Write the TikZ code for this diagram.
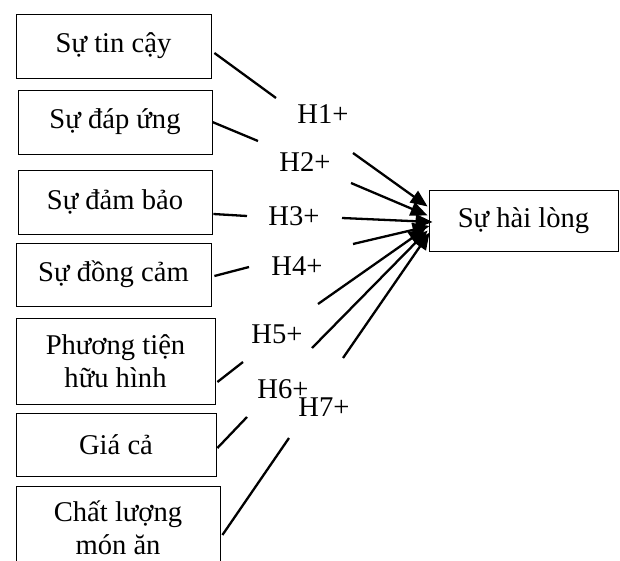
\documentclass[tikz,border=0pt]{standalone}
\usepackage{fontspec}
\setmainfont{Liberation Serif}
\usetikzlibrary{calc,arrows.meta}
\tikzset{
  box/.style={draw, line width=0.8pt, inner sep=0pt, align=center,
    font=\fontsize{28.6}{33}\selectfont},
  hyp/.style={inner sep=0pt, font=\fontsize{28.6}{33}\selectfont},
  link/.style={line width=2.3pt},
  arr/.style={line width=2.3pt, -{Triangle[length=17pt,width=14pt]}},
}
\begin{document}
\begin{tikzpicture}[x=1pt,y=-1pt]
\clip (0,0) rectangle (620,561);
\fill[white] (0,0) rectangle (620,561);

% factor boxes
\node[box, minimum width=195, minimum height=64] (s1) at (113.5,46) {Sự tin cậy};
\node[box, minimum width=194, minimum height=64] (s2) at (115,122) {Sự đáp ứng};
\node[box, minimum width=194, minimum height=64] (s3) at (115,202) {Sự đảm bảo};
\node[box, minimum width=195, minimum height=63] (s4) at (113.5,274.5) {Sự đồng cảm};
\node[box, minimum width=199, minimum height=86] (s5) at (115.5,361) {Phương tiện\\hữu hình};
\node[box, minimum width=200, minimum height=63] (s6) at (116,444.5) {Giá cả};
\node[box, minimum width=204, minimum height=84] (s7) at (118,528) {Chất lượng\\món ăn};

% outcome box
\node[box, minimum width=189, minimum height=61] (t) at (523.5,220.5) {Sự hài lòng};

% hypothesis labels
\node[hyp] (h1) at (323,114) {H1+};
\node[hyp] (h2) at (305,162) {H2+};
\node[hyp] (h3) at (294,216) {H3+};
\node[hyp] (h4) at (297,266) {H4+};
\node[hyp] (h5) at (277,334) {H5+};
\node[hyp] (h6) at (283,389) {H6+};
\node[hyp] (h7) at (324,407) {H7+};

% ends of the segments next to the labels
\coordinate (a1) at (276,98);   \coordinate (b1) at (353,153);
\coordinate (a2) at (258,141);  \coordinate (b2) at (351,183);
\coordinate (a3) at (247,216);  \coordinate (b3) at (342,218);
\coordinate (a4) at (249,267);  \coordinate (b4) at (353,244);
\coordinate (a5) at (243,362);  \coordinate (b5) at (318,304);
\coordinate (a6) at (247,417);  \coordinate (b6) at (312,348);
\coordinate (a7) at (289,438);  \coordinate (b7) at (343,358);

% segments from the factor boxes
\draw[link] ($(s1.east)+(3,7)$) -- (a1);
\draw[link] ($(s2.east)+(0,0)$) -- (a2);
\draw[link] ($(s3.east)+(1,12)$) -- (a3);
\draw[link] ($(s4.east)+(3,1.5)$) -- (a4);
\draw[link] ($(s5.east)+(2,21)$) -- (a5);
\draw[link] ($(s6.east)+(1,3.5)$) -- (a6);
\draw[link] ($(s7.east)+(2,7)$) -- (a7);

% arrows into the outcome box
\draw[arr] (b1) -- ($(t.west)+(-1,-14)$);
\draw[arr] (b2) -- ($(t.west)+(-1,-5)$);
\draw[arr] (b3) -- ($(t.west)+(4,1.5)$);
\draw[arr] (b4) -- ($(t.west)+(1,5.5)$);
\draw[arr] (b5) -- ($(t.west)+(-3,8)$);
\draw[arr] (b6) -- ($(t.west)+(-1,10)$);
\draw[arr] (b7) -- ($(t.west)+(1,12)$);
\end{tikzpicture}
\end{document}
